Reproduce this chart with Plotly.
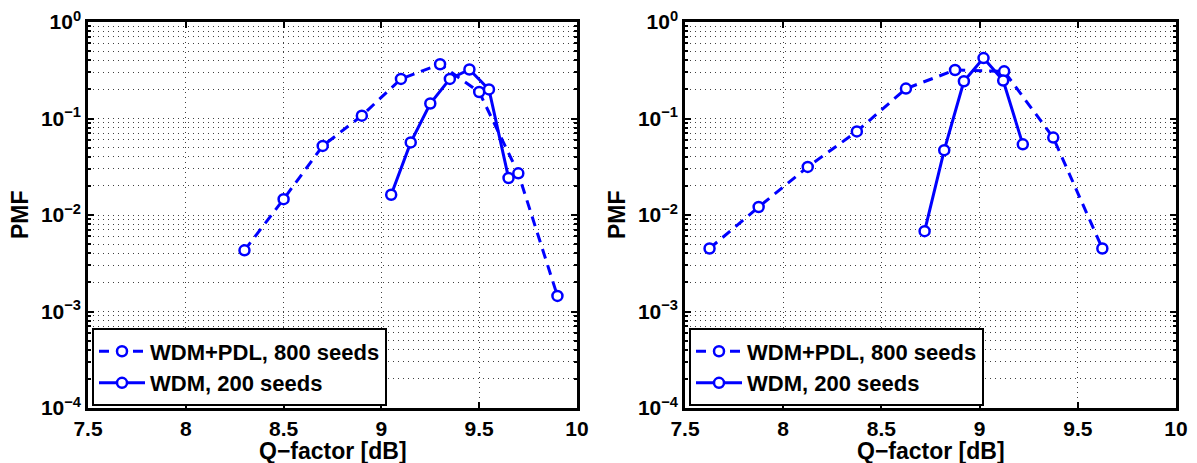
import plotly.graph_objects as go

# ---- data (left panel) ----
left_pdl_q = [8.3, 8.5, 8.7, 8.9, 9.1, 9.3, 9.5, 9.7, 9.9]
left_pdl_pmf = [0.0043, 0.0146, 0.052, 0.107, 0.257, 0.365, 0.188, 0.027, 0.00145]
left_wdm_q = [9.05, 9.15, 9.25, 9.35, 9.45, 9.55, 9.65]
left_wdm_pmf = [0.0162, 0.0565, 0.143, 0.257, 0.322, 0.200, 0.0242]

# ---- data (right panel) ----
right_pdl_q = [7.625, 7.875, 8.125, 8.375, 8.625, 8.875, 9.125, 9.375, 9.625]
right_pdl_pmf = [0.0045, 0.0121, 0.0315, 0.0735, 0.204, 0.318, 0.308, 0.0634, 0.0045]
right_wdm_q = [8.72, 8.82, 8.92, 9.02, 9.12, 9.22]
right_wdm_pmf = [0.0068, 0.047, 0.243, 0.423, 0.247, 0.054]

series_names = ["WDM+PDL, 800 seeds", "WDM, 200 seeds"]
x_title = "Q\u2212factor [dB]"
y_title = "PMF"
x_ticks = [7.5, 8, 8.5, 9, 9.5, 10]
x_ticktext = ["7.5", "8", "8.5", "9", "9.5", "10"]
y_ticks = [1e-4, 1e-3, 1e-2, 1e-1, 1e0]
y_ticktext = ["10<sup>\u22124</sup>", "10<sup>\u22123</sup>", "10<sup>\u22122</sup>",
              "10<sup>\u22121</sup>", "10<sup>0</sup>"]
y_minor = [m * 10.0 ** e for e in range(-4, 0) for m in range(2, 10)]

BLUE = "rgb(0,0,255)"
FONT = "Liberation Sans, Arial, Helvetica, sans-serif"

fig = go.Figure()

panels = [
    (left_pdl_q, left_pdl_pmf, left_wdm_q, left_wdm_pmf, "x", "y", "legend"),
    (right_pdl_q, right_pdl_pmf, right_wdm_q, right_wdm_pmf, "x2", "y2", "legend2"),
]
for pq, pp, wq, wp, xa, ya, lg in panels:
    fig.add_trace(go.Scatter(
        x=pq, y=pp, name=series_names[0], mode="lines+markers",
        line=dict(color=BLUE, width=3, dash="10px,7px"),
        marker=dict(symbol="circle", size=10, color="white",
                    line=dict(color=BLUE, width=2.5)),
        xaxis=xa, yaxis=ya, legend=lg))
    fig.add_trace(go.Scatter(
        x=wq, y=wp, name=series_names[1], mode="lines+markers",
        line=dict(color=BLUE, width=3),
        marker=dict(symbol="circle", size=10, color="white",
                    line=dict(color=BLUE, width=2.5)),
        xaxis=xa, yaxis=ya, legend=lg))

# page body has an 8px margin, so the figure is 8px smaller and all
# positions are shifted by -8px relative to the window.
OFF = 8
W, H = 1197 - OFF, 463 - OFF
MT = 22 - OFF
PB = 408 - OFF            # plot bottom in figure px
MB = H - PB
PH = PB - MT
grid_col = "rgba(0,0,0,0.75)"
grid_dash = "1px,4px"
tick_font = dict(family=FONT, size=21, color="black", weight="bold")
title_font = dict(family=FONT, size=23, color="black", weight="bold")

def xaxis(domain, anchor):
    return dict(
        domain=domain, anchor=anchor, range=[7.5, 10],
        tickmode="array", tickvals=x_ticks, ticktext=x_ticktext,
        showgrid=True, gridcolor=grid_col, griddash=grid_dash, gridwidth=1,
        zeroline=False, showline=True, linecolor="black", linewidth=2.5,
        mirror="allticks", ticks="inside", ticklen=6, tickwidth=2, tickcolor="black",
        tickfont=tick_font, automargin=False, ticklabeloverflow="allow",
    )

def yaxis(anchor):
    return dict(
        domain=[0, 1], anchor=anchor, type="log", range=[-4, 0],
        tickmode="array", tickvals=y_ticks, ticktext=y_ticktext,
        showgrid=True, gridcolor=grid_col, griddash=grid_dash, gridwidth=1,
        minor=dict(tickmode="array", tickvals=y_minor, showgrid=True,
                   gridcolor=grid_col, griddash=grid_dash, gridwidth=1,
                   ticks="inside", ticklen=3, tickcolor="black"),
        zeroline=False, showline=True, linecolor="black", linewidth=2.5,
        mirror="allticks", ticks="inside", ticklen=6, tickwidth=2, tickcolor="black",
        tickfont=tick_font, automargin=False, ticklabeloverflow="allow",
    )

legend_common = dict(
    bgcolor="white", bordercolor="black", borderwidth=2,
    font=dict(family=FONT, size=22, color="black", weight="bold"),
    xanchor="left", yanchor="bottom", tracegroupgap=0,
    itemwidth=46, traceorder="normal",
)

dom1 = [(88 - OFF) / W, (577 - OFF) / W]
dom2 = [(685 - OFF) / W, (1176 - OFF) / W]

annotations = []
for dom, ytx in [(dom1, 20), (dom2, 617)]:
    annotations.append(dict(
        text=x_title, xref="paper", yref="paper",
        x=(dom[0] + dom[1]) / 2, y=-(451 - 408) / PH,
        xanchor="center", yanchor="middle", showarrow=False, font=title_font))
    annotations.append(dict(
        text=y_title, xref="paper", yref="paper", textangle=-90,
        x=(ytx - OFF) / W, y=0.5, xanchor="center", yanchor="middle",
        showarrow=False, font=title_font))

fig.update_layout(
    width=W, height=H,
    margin=dict(l=0, r=0, t=MT, b=MB),
    paper_bgcolor="white", plot_bgcolor="white",
    font=dict(family=FONT, size=21, color="black", weight="bold"),
    xaxis=xaxis(dom1, "y"),
    yaxis=yaxis("x"),
    xaxis2=xaxis(dom2, "y2"),
    yaxis2=yaxis("x2"),
    legend=dict(x=(92 - OFF) / W, y=0.004, **legend_common),
    legend2=dict(x=(689 - OFF) / W, y=0.004, **legend_common),
    showlegend=True,
    annotations=annotations,
)

fig.write_html("out.html")
